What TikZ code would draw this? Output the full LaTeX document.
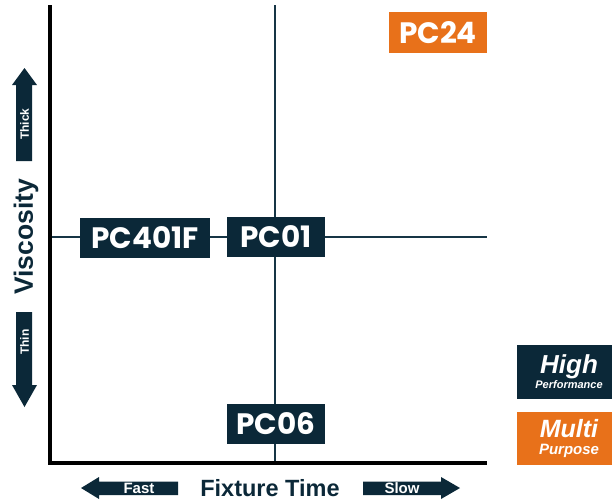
\documentclass[tikz,border=0pt]{standalone}
\usepackage{fontspec}
\setmainfont{Liberation Sans}
\newfontfamily\pcfont{Poppins}
\definecolor{navy}{HTML}{0B2838}
\definecolor{orng}{HTML}{E8711A}
\definecolor{cross}{HTML}{163545}
\begin{document}
\begin{tikzpicture}[x=1pt,y=-1pt,
  pcbox/.style={fill=navy,text=white,inner sep=0pt,minimum height=40pt,font=\pcfont\bfseries\fontsize{29.5}{29.5}\selectfont},
  orbox/.style={pcbox,fill=orng},
  axisline/.style={line width=4pt,black},
  crossline/.style={line width=2pt,cross},
  arrowfill/.style={fill=navy},
  arrowtext/.style={text=white,font=\bfseries\fontsize{14.5}{14.5}\selectfont,inner sep=0pt},
  legendbox/.style={fill=#1,minimum width=95pt,minimum height=54pt,inner sep=0pt},
  legendtext/.style={text=white,inner sep=0pt,anchor=base}]
\useasboundingbox (0,0) rectangle (612,499);
% axes
\coordinate (ytop) at (50,5);
\coordinate (orig) at (50,463);
\coordinate (xend) at (487,463);
\coordinate (ctop) at (275,5);
\coordinate (cbot) at (275,463);
\coordinate (cleft) at (50,237);
\coordinate (cright) at (487,237);
\draw[crossline] (ctop) -- (cbot);
\draw[crossline] (cleft) -- (cright);
\draw[axisline] (ytop) -- (50,465);
\draw[axisline] (48,463) -- (xend);
% product nodes
\node[pcbox,minimum width=130pt] (pc401f) at (145,238) {PC401F};
\node[pcbox,minimum width=98pt] (pc01) at (276,237) {PC01};
\node[pcbox,minimum width=98pt] (pc06) at (276,424) {PC06};
\node[orbox,minimum width=98pt,minimum height=41pt] (pc24) at (438,32.5) {PC24};
% vertical arrows
\fill[arrowfill] (24.5,68) -- (37,85) -- (32,85) -- (32,161) -- (16,161) -- (16,85) -- (12,85) -- cycle;
\node[arrowtext,rotate=90,font=\bfseries\fontsize{12}{12}\selectfont] (thick) at (24.5,124) {Thick};
\fill[arrowfill] (24.5,407) -- (37,385) -- (32,385) -- (32,312) -- (16,312) -- (16,385) -- (12,385) -- cycle;
\node[arrowtext,rotate=90,font=\bfseries\fontsize{12}{12}\selectfont] (thin) at (24.5,342) {Thin};
\node[rotate=90,text=navy,font=\bfseries\fontsize{26.5}{26.5}\selectfont,inner sep=0pt] (visc) at (26,237) {Viscosity};
% horizontal arrows
\fill[arrowfill] (81,488) -- (99,477) -- (99,481.5) -- (178,481.5) -- (178,495) -- (99,495) -- (99,499) -- cycle;
\node[arrowtext,font=\bfseries\fontsize{15}{15}\selectfont] (fast) at (139,488.5) {Fast};
\fill[arrowfill] (460,488) -- (441,477) -- (441,481.5) -- (363,481.5) -- (363,495) -- (441,495) -- (441,499) -- cycle;
\node[arrowtext,font=\bfseries\fontsize{15}{15}\selectfont] (slow) at (402,488.5) {Slow};
\node[text=navy,font=\bfseries\fontsize{23.5}{23.5}\selectfont,inner sep=0pt] (fixt) at (270,488) {Fixture Time};
% legend
\node[legendbox=navy] (high) at (564.5,372) {};
\node[legendtext,font=\bfseries\itshape\fontsize{26}{26}\selectfont] (hightxt) at (569,373) {High};
\node[legendtext,font=\bfseries\itshape\fontsize{11}{11}\selectfont] (perftxt) at (569,388) {Performance};
\node[legendbox=orng,minimum height=53pt] (multi) at (564.5,438.5) {};
\node[legendtext,font=\bfseries\itshape\fontsize{25}{25}\selectfont] (multitxt) at (569,437.5) {Multi};
\node[legendtext,font=\bfseries\itshape\fontsize{15}{15}\selectfont] (purptxt) at (569,454) {Purpose};
\end{tikzpicture}
\end{document}
